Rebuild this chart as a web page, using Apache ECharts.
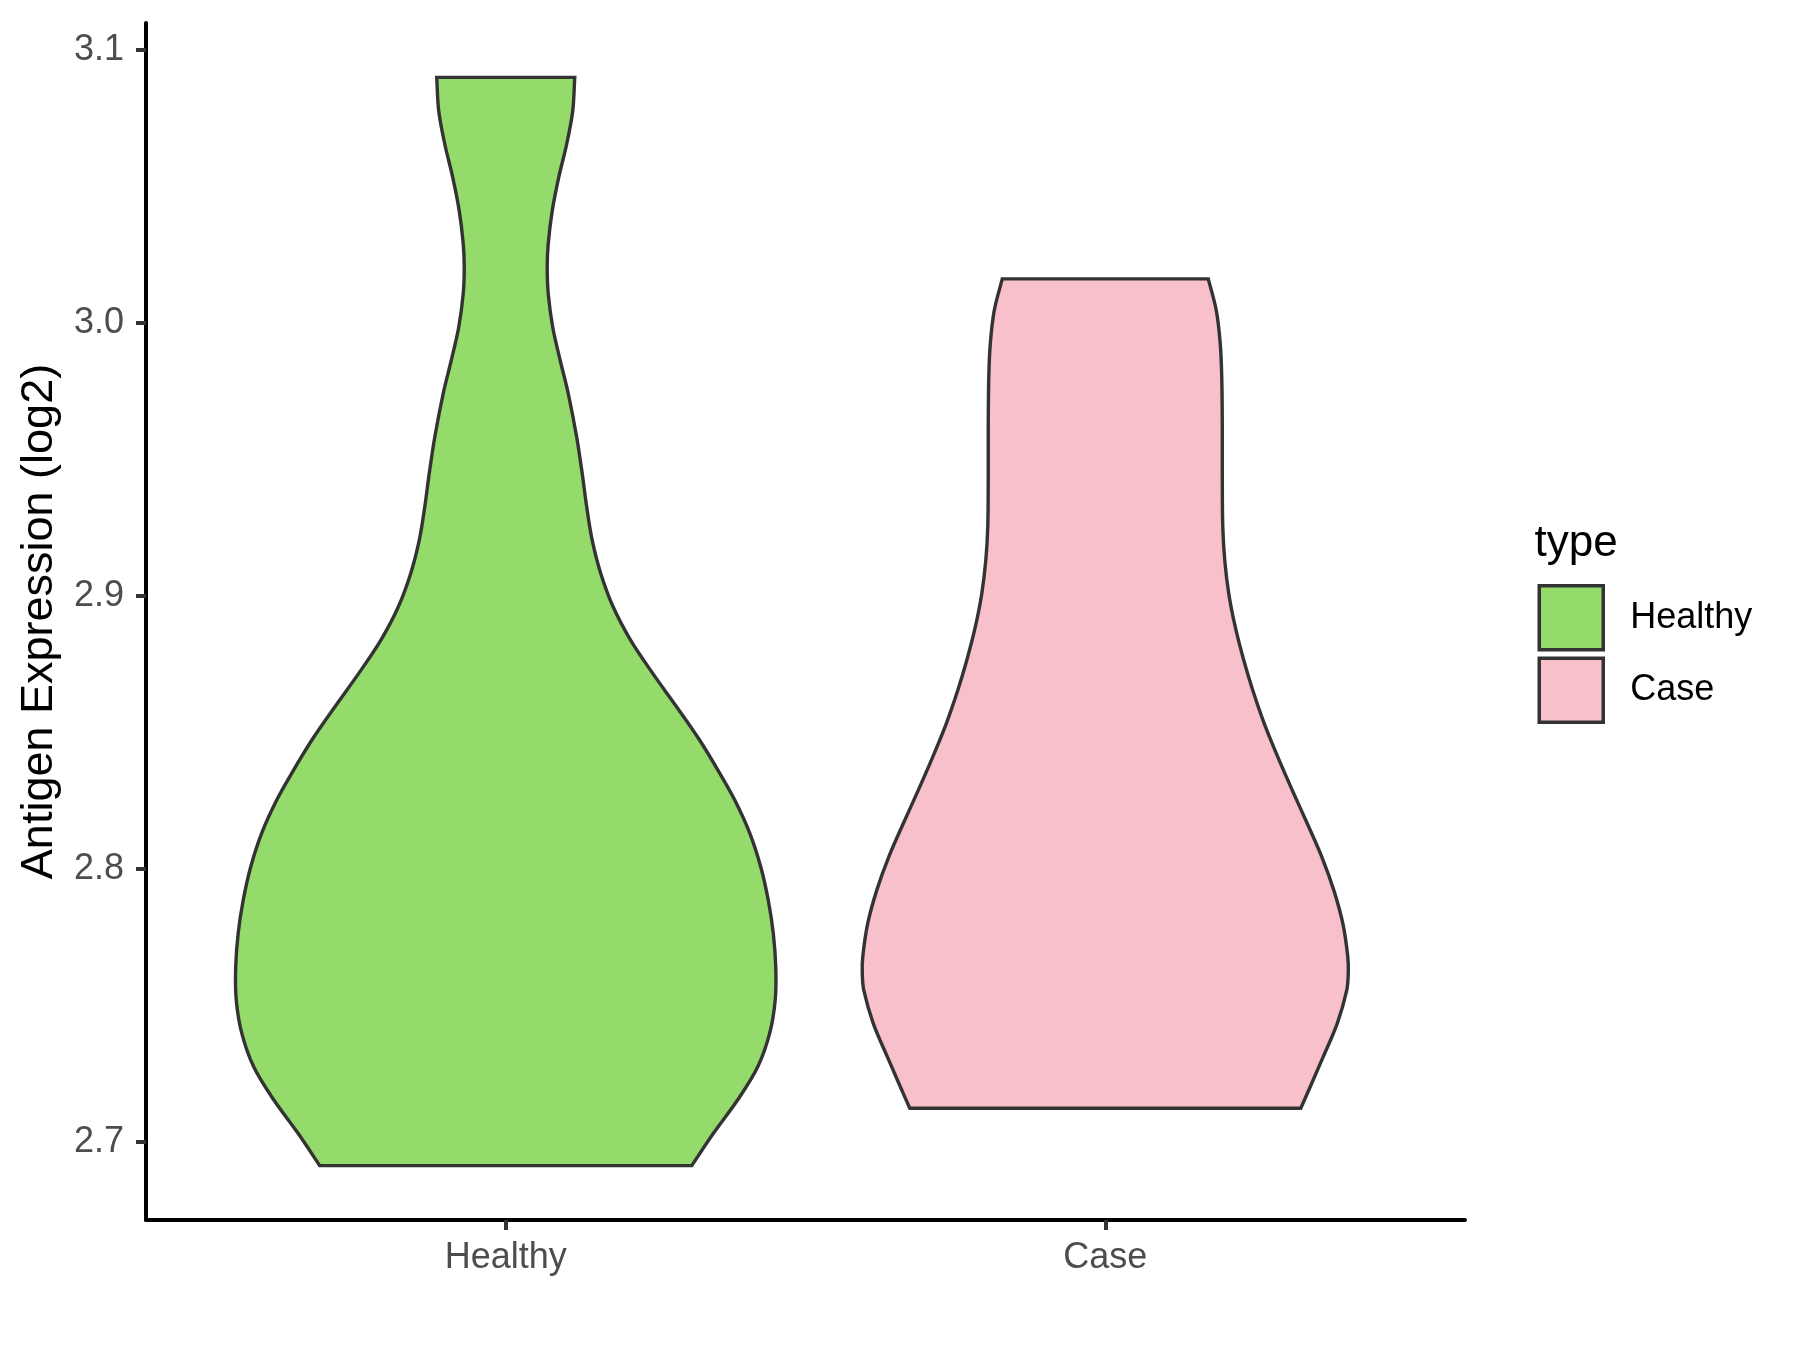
<!DOCTYPE html>
<html>
<head>
<meta charset="utf-8">
<script src="https://cdn.jsdelivr.net/npm/echarts@6/dist/echarts.min.js"></script>
<style>
  html, body { margin: 0; padding: 0; background: #ffffff; }
  #chart { width: 1800px; height: 1350px; }
</style>
</head>
<body>
<div id="chart"></div>
<script>
// ---- data ----
const categories = ['Healthy', 'Case'];
const yTicks = [2.7, 2.8, 2.9, 3.0, 3.1];

// violin outlines: expression value (top -> bottom) and half-width (in category units)
const healthyValues = [3.0900, 3.0778, 3.0657, 3.0534, 3.0412, 3.0291, 3.0205, 3.0108, 2.9985, 2.9863,
  2.9742, 2.9582, 2.9449, 2.9326, 2.9204, 2.9083, 2.8960, 2.8838, 2.8717, 2.8594,
  2.8472, 2.8351, 2.8253, 2.8132, 2.8008, 2.7886, 2.7766, 2.7642, 2.7521, 2.7400,
  2.7276, 2.7155, 2.7034, 2.6914];
const healthyWidths = [0.1151, 0.1118, 0.1018, 0.0884, 0.0776, 0.0709, 0.0692, 0.0709, 0.0784, 0.0909,
  0.1043, 0.1184, 0.1276, 0.1351, 0.1443, 0.1585, 0.1793, 0.2085, 0.2452, 0.2852,
  0.3236, 0.3570, 0.3820, 0.4070, 0.4254, 0.4379, 0.4462, 0.4504, 0.4495, 0.4404,
  0.4204, 0.3870, 0.3470, 0.3103];

const caseValues = [3.0162, 3.0046, 2.9924, 2.9802, 2.9619, 2.9436, 2.9253, 2.9131, 2.9009, 2.8887,
  2.8765, 2.8655, 2.8533, 2.8411, 2.8289, 2.8167, 2.8045, 2.7923, 2.7801, 2.7679,
  2.7618, 2.7557, 2.7435, 2.7313, 2.7191, 2.7124];
const caseWidths = [0.1718, 0.1852, 0.1918, 0.1943, 0.1952, 0.1952, 0.1960, 0.1993, 0.2060, 0.2168,
  0.2310, 0.2460, 0.2652, 0.2877, 0.3119, 0.3369, 0.3611, 0.3811, 0.3962, 0.4045,
  0.4053, 0.4028, 0.3870, 0.3636, 0.3395, 0.3261];

// ---- build ----
const violins = [
  { name: categories[0], pos: 1, values: healthyValues, widths: healthyWidths, color: '#94DB6B' },
  { name: categories[1], pos: 2, values: caseValues, widths: caseWidths, color: '#F7C0CB' }
];

// y range like ggplot: data range expanded by 5%
const allVals = healthyValues.concat(caseValues);
const dMin = Math.min.apply(null, allVals), dMax = Math.max.apply(null, allVals);
const pad = (dMax - dMin) * 0.05;
const yMin = dMin - pad, yMax = dMax + pad;

// smooth curve through the outline points (chord-length Hermite -> cubic Bezier)
function smoothPath(pts) {
  const n = pts.length;
  const t = [0];
  for (let i = 1; i < n; i++) {
    t.push(t[i - 1] + (Math.hypot(pts[i][0] - pts[i - 1][0], pts[i][1] - pts[i - 1][1]) || 1e-6));
  }
  const m = pts.map((p, i) => {
    const a = pts[Math.max(i - 1, 0)], b = pts[Math.min(i + 1, n - 1)];
    const dt = t[Math.min(i + 1, n - 1)] - t[Math.max(i - 1, 0)] || 1;
    return [(b[0] - a[0]) / dt, (b[1] - a[1]) / dt];
  });
  let d = '';
  for (let i = 0; i < n - 1; i++) {
    const h = t[i + 1] - t[i];
    const c1 = [pts[i][0] + m[i][0] * h / 3, pts[i][1] + m[i][1] * h / 3];
    const c2 = [pts[i + 1][0] - m[i + 1][0] * h / 3, pts[i + 1][1] - m[i + 1][1] * h / 3];
    d += ' C' + c1[0] + ',' + c1[1] + ' ' + c2[0] + ',' + c2[1] + ' ' + pts[i + 1][0] + ',' + pts[i + 1][1];
  }
  return d;
}

function renderViolin(params, api) {
  const v = violins[params.seriesIndex];
  const right = v.values.map((val, i) => api.coord([v.pos + v.widths[i], val]));
  const left = v.values.map((val, i) => api.coord([v.pos - v.widths[i], val])).reverse();
  let d = 'M' + left[left.length - 1][0] + ',' + left[left.length - 1][1];
  d += ' L' + right[0][0] + ',' + right[0][1];
  d += smoothPath(right);
  d += ' L' + left[0][0] + ',' + left[0][1];
  d += smoothPath(left);
  d += ' Z';
  return {
    type: 'path',
    shape: { pathData: d },
    style: { fill: v.color, stroke: '#333333', lineWidth: 3.4, lineJoin: 'miter' }
  };
}

const FONT = "'Liberation Sans', Arial, sans-serif";

const option = {
  backgroundColor: '#ffffff',
  animation: false,
  grid: { left: 146, right: 335, top: 23, bottom: 130, containLabel: false },
  title: {
    text: 'type', left: 1534.5, top: 522, padding: 0,
    textStyle: { fontFamily: FONT, fontSize: 44, fontWeight: 'normal', color: '#000000' }
  },
  legend: {
    orient: 'vertical', left: 1537.5, top: 584, padding: 0,
    itemWidth: 64, itemHeight: 64, itemGap: 5,
    icon: 'rect',
    textStyle: { fontFamily: FONT, fontSize: 36, color: '#000000', padding: [6, 0, 0, 22] },
    data: violins.map(v => ({
      name: v.name, icon: 'rect',
      itemStyle: { color: v.color, borderColor: '#333333', borderWidth: 3.5 }
    }))
  },
  xAxis: {
    type: 'value', min: 0.4, max: 2.6,
    axisLine: { show: true, onZero: false, lineStyle: { color: '#000000', width: 4 } },
    axisTick: { show: true, customValues: [1, 2], length: 10, lineStyle: { color: '#333333', width: 4 } },
    axisLabel: {
      customValues: [1, 2], formatter: val => categories[Math.round(val) - 1],
      fontFamily: FONT, fontSize: 36, color: '#4D4D4D', margin: 20
    },
    splitLine: { show: false }
  },
  yAxis: {
    type: 'value', min: yMin, max: yMax,
    name: 'Antigen Expression (log2)', nameLocation: 'middle', nameGap: 84,
    nameTextStyle: { fontFamily: FONT, fontSize: 45, color: '#000000' },
    axisLine: { show: true, onZero: false, lineStyle: { color: '#000000', width: 4 } },
    axisTick: { show: true, customValues: yTicks, length: 10, lineStyle: { color: '#333333', width: 4 } },
    axisLabel: {
      customValues: yTicks, formatter: val => val.toFixed(1),
      fontFamily: FONT, fontSize: 36, color: '#4D4D4D', margin: 22
    },
    splitLine: { show: false }
  },
  series: violins.map(v => ({
    type: 'custom', name: v.name,
    itemStyle: { color: v.color, borderColor: '#333333' },
    renderItem: renderViolin,
    data: [[v.pos, v.values[0]]],
    clip: false
  }))
};

const chart = echarts.init(document.getElementById('chart'), null, { renderer: 'canvas' });
chart.setOption(option);
</script>
</body>
</html>
